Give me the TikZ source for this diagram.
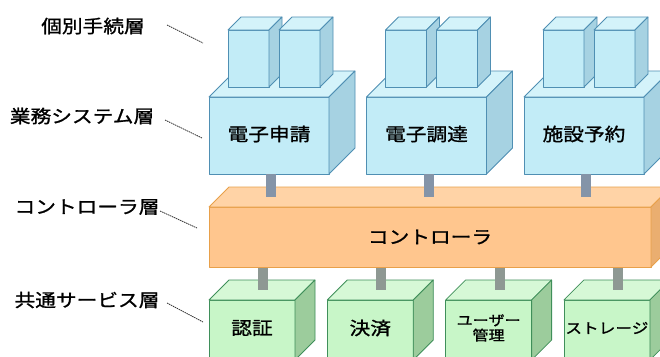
\documentclass[tikz,border=0pt]{standalone}
\usepackage{fontspec}
\newfontfamily\jpfont[FakeStretch=1.15, FakeBold=1.2]{Noto Sans CJK JP}

% face colours of the blocks
\definecolor{bluefront}{HTML}{C2ECF7}
\definecolor{bluetop}{HTML}{D4F3FA}
\definecolor{blueside}{HTML}{A6D2E2}
\definecolor{blueedge}{HTML}{4F8FB3}
\definecolor{orangefront}{HTML}{FFC68E}
\definecolor{orangetop}{HTML}{FFD3A6}
\definecolor{orangeside}{HTML}{EAAE70}
\definecolor{orangeedge}{HTML}{E8A04A}
\definecolor{greenfront}{HTML}{C8F6C8}
\definecolor{greentop}{HTML}{D6F8D6}
\definecolor{greenside}{HTML}{9CCC9C}
\definecolor{greenedge}{HTML}{3F8F5A}
\definecolor{postblue}{HTML}{8494A8}
\definecolor{postgray}{HTML}{8E9893}

% box drawn as front, top and side face: x, y (top of front), width, height, depth, colour
\newcommand{\blockbox}[6]{%
  \filldraw[draw=#6edge, fill=#6front] (#1,#2) rectangle ++(#3,#4);
  \filldraw[draw=#6edge, fill=#6top] (#1,#2) -- ++(#5,-#5) -- ++(#3,0) -- ++(-#5,#5) -- cycle;
  \filldraw[draw=#6edge, fill=#6side] (#1+#3,#2) -- ++(#5,-#5) -- ++(0,#4) -- ++(-#5,#5) -- cycle;
}

\begin{document}
\begin{tikzpicture}[x=1pt, y=-1pt, line join=round, line width=0.8pt,
  lbl/.style={font=\jpfont\fontsize{18}{20}\selectfont, inner sep=0pt},
  leader/.style={draw=black!80, line width=0.8pt, dash pattern=on 1.5pt off 0.7pt},
  postup/.style={draw=postblue, line width=10pt},
  postdown/.style={draw=postgray, line width=10pt}]

  % page and clipping (right and bottom blocks run off the page)
  \useasboundingbox (0,0) rectangle (660,356);
  \clip (0,0) rectangle (660,356);
  \fill[white] (0,0) rectangle (660,356);

  % business systems with their procedure blocks on top
  \foreach \i/\txt in {0/電子申請, 1/電子調達, 2/施設予約} {
    \pgfmathsetmacro\bx{209+157.5*\i}
    \blockbox{\bx}{97}{120}{77}{26}{blue}
    \blockbox{\bx+19}{30}{41}{57}{13}{blue}
    \blockbox{\bx+70}{30}{41}{57}{13}{blue}
    \node[lbl] (app\i) at (\bx+60,134) {\txt};
    \coordinate (appfoot\i) at (\bx+62,174);
    \coordinate (ctlin\i) at (\bx+62,197);
  }

  % controller
  \blockbox{209}{207}{442}{60}{20}{orange}
  \node[lbl] (ctl) at (430,237) {コントローラ};

  % posts from systems down to the controller
  \foreach \i in {0,1,2}
    \draw[postup] (appfoot\i) -- (ctlin\i);

  % common services
  \foreach \i/\txt/\fs/\bs in {0/認証/18/20, 1/決済/18/20, 2/{ユーザー\\管理}/14/15, 3/ストレージ/14.5/16} {
    \pgfmathsetmacro\gx{209+118.3*\i}
    \blockbox{\gx}{300}{86}{60}{20}{green}
    \node[lbl, align=center, font=\jpfont\fontsize{\fs}{\bs}\selectfont] (svc\i) at (\gx+43,328) {\txt};
    \coordinate (ctlout\i) at (\gx+54,268);
    \coordinate (svcin\i) at (\gx+54,290);
  }

  % posts from the controller down to the services
  \foreach \i in {0,...,3}
    \draw[postdown] (ctlout\i) -- (svcin\i);

  % layer names
  \node[lbl] (lyr1) at (93,26) {個別手続層};
  \node[lbl] (lyr2) at (82,116) {業務システム層};
  \node[lbl] (lyr3) at (87,207) {コントローラ層};
  \node[lbl] (lyr4) at (87,300) {共通サービス層};

  % leader lines
  \coordinate (lyr1a) at (167,25);  \coordinate (lyr1b) at (203,43);
  \coordinate (lyr2a) at (165,120); \coordinate (lyr2b) at (202,138);
  \coordinate (lyr3a) at (160,211); \coordinate (lyr3b) at (197,228);
  \coordinate (lyr4a) at (167,303); \coordinate (lyr4b) at (203,322);
  \foreach \k in {1,...,4}
    \draw[leader] (lyr\k a) -- (lyr\k b);
\end{tikzpicture}
\end{document}
